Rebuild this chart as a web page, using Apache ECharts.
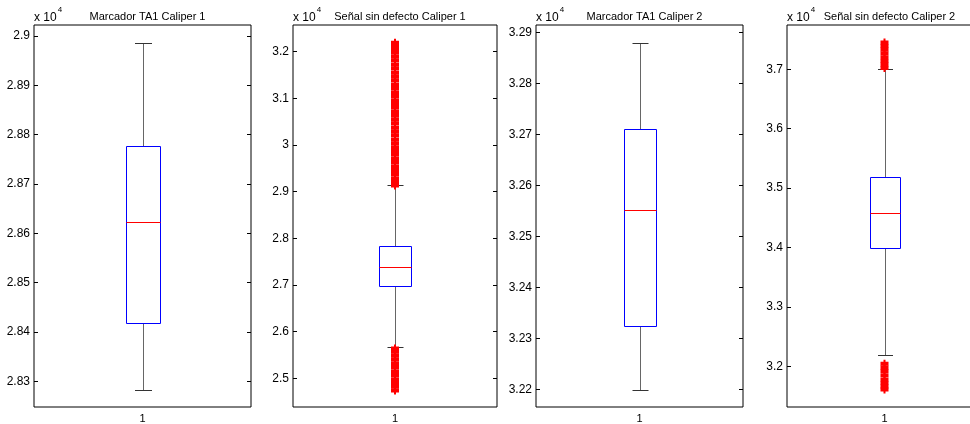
<!DOCTYPE html>
<html>
<head>
<meta charset="utf-8">
<script src="https://cdn.jsdelivr.net/npm/echarts@6/dist/echarts.min.js"></script>
<style>
html,body{margin:0;padding:0;background:#fff;}
#c{width:970px;height:424px;}
</style>
</head>
<body>
<div id="c"></div>
<script>
// ---- data (values in units of 10^4) ----
var categories = ['1'];
var titles = ['Marcador TA1 Caliper 1', 'Señal sin defecto Caliper 1', 'Marcador TA1 Caliper 2', 'Señal sin defecto Caliper 2'];

// [lower whisker, Q1, median, Q3, upper whisker]
var box1 = [2.8283, 2.8418, 2.8623, 2.8777, 2.8986];
var box2 = [2.5680, 2.6980, 2.7395, 2.7830, 2.9133];
var box3 = [3.2199, 3.2325, 3.2552, 3.2712, 3.2880];
var box4 = [3.2192, 3.3987, 3.4582, 3.5189, 3.7000];

// outliers
var out1 = [];
var out2 = [2.913, 2.921, 2.929, 2.938, 2.946, 2.953, 2.962, 2.970, 2.979, 2.987, 2.995, 3.004, 3.012, 3.021,
            3.029, 3.037, 3.046, 3.054, 3.063, 3.071, 3.080, 3.088, 3.096, 3.105, 3.113, 3.122, 3.130, 3.139,
            3.147, 3.155, 3.164, 3.172, 3.181, 3.189, 3.198, 3.206, 3.213, 3.219,
            2.564, 2.557, 2.549, 2.541, 2.532, 2.524, 2.515, 2.507, 2.498, 2.490, 2.482, 2.474];
var out3 = [];
var out4 = [3.702, 3.708, 3.714, 3.720, 3.727, 3.733, 3.739, 3.745,
            3.2045, 3.198, 3.192, 3.185, 3.178, 3.172, 3.166, 3.161];

// tick labels
var ticks1 = [2.83, 2.84, 2.85, 2.86, 2.87, 2.88, 2.89, 2.9];
var ticks2 = [2.5, 2.6, 2.7, 2.8, 2.9, 3, 3.1, 3.2];
var ticks3 = [3.22, 3.23, 3.24, 3.25, 3.26, 3.27, 3.28, 3.29];
var ticks4 = [3.2, 3.3, 3.4, 3.5, 3.6, 3.7];

// axis ranges
var range1 = [2.8248, 2.9022];
var range2 = [2.4384, 3.2573];
var range3 = [3.2166, 3.2915];
var range4 = [3.1316, 3.7744];

// ---- layout ----
var panels = [
  {left: 34, width: 217, box: box1, out: out1, ticks: ticks1, range: range1},
  {left: 293, width: 204, box: box2, out: out2, ticks: ticks2, range: range2},
  {left: 536, width: 207, box: box3, out: out3, ticks: ticks3, range: range3},
  {left: 787, width: 195, box: box4, out: out4, ticks: ticks4, range: range4}
];
var TOP = 25, HEIGHT = 382;
var FONT = '"Liberation Sans", Arial, sans-serif';
var plusPath = 'path://M3,0H5V2H8V6H5V8H3V6H0V2H3Z';

function fmt(v) { return String(+(+v).toFixed(4)); }

var grid = [], xAxis = [], yAxis = [], series = [], title = [];

panels.forEach(function (p, i) {
  grid.push({left: p.left, top: TOP, width: p.width, height: HEIGHT, show: true,
    outerBoundsMode: 'none', containLabel: false,
    borderColor: '#000', borderWidth: 1, backgroundColor: '#fff'});
  title.push({text: titles[i], left: p.left + p.width / 2, top: 6, textAlign: 'center',
    textStyle: {fontFamily: FONT, fontSize: 11, fontWeight: 'normal', color: '#000'}});
  xAxis.push({type: 'category', gridIndex: i, data: categories, boundaryGap: true,
    axisLine: {show: false}, axisTick: {show: false}, splitLine: {show: false},
    axisLabel: {margin: 6, fontFamily: FONT, fontSize: 11, color: '#000'}});
  yAxis.push({type: 'value', gridIndex: i, min: p.range[0], max: p.range[1], position: 'left',
    name: '{a|x 10}{b|4}', nameLocation: 'end', nameGap: 1,
    nameTextStyle: {align: 'left', verticalAlign: 'bottom', padding: [0, 0, 0, 0],
      rich: {a: {fontFamily: FONT, fontSize: 12, color: '#000', padding: [6, 0, 0, 0]},
             b: {fontFamily: FONT, fontSize: 8, color: '#000', verticalAlign: 'top', padding: [0, 0, 10, 1]}}},
    axisLine: {show: false}, splitLine: {show: false},
    axisTick: {show: true, inside: true, length: 4, customValues: p.ticks, lineStyle: {color: '#000'}},
    axisLabel: {show: true, margin: 4, customValues: p.ticks, formatter: fmt,
      fontFamily: FONT, fontSize: 12, color: '#000'}});
  yAxis.push({type: 'value', gridIndex: i, min: p.range[0], max: p.range[1], position: 'right',
    axisLine: {show: false}, splitLine: {show: false}, axisLabel: {show: false},
    axisTick: {show: true, inside: true, length: 4, customValues: p.ticks, lineStyle: {color: '#000'}}});

  series.push({
    type: 'custom', xAxisIndex: i, yAxisIndex: 2 * i, clip: false, z: 3,
    data: [[0].concat(p.box)],
    encode: {x: 0, y: [1, 2, 3, 4, 5]},
    renderItem: function (params, api) {
      var lo = api.coord([api.value(0), api.value(1)]);
      var q1 = api.coord([api.value(0), api.value(2)]);
      var md = api.coord([api.value(0), api.value(3)]);
      var q3 = api.coord([api.value(0), api.value(4)]);
      var hi = api.coord([api.value(0), api.value(5)]);
      var band = api.size([1, 0])[0];
      var bw = Math.round(band * 0.155);
      var cw = Math.round(bw / 2);
      var cx = Math.round(md[0]) + 0.5;
      var r = function (v) { return Math.round(v) + 0.5; };
      var wStyle = {stroke: '#666', lineWidth: 1};
      return {type: 'group', children: [
        {type: 'line', shape: {x1: cx, y1: r(q3[1]), x2: cx, y2: r(hi[1])}, style: wStyle},
        {type: 'line', shape: {x1: cx, y1: r(q1[1]), x2: cx, y2: r(lo[1])}, style: wStyle},
        {type: 'line', shape: {x1: cx - cw / 2, y1: r(hi[1]), x2: cx + cw / 2, y2: r(hi[1])}, style: {stroke: '#333', lineWidth: 1}},
        {type: 'line', shape: {x1: cx - cw / 2, y1: r(lo[1]), x2: cx + cw / 2, y2: r(lo[1])}, style: {stroke: '#333', lineWidth: 1}},
        {type: 'rect', shape: {x: cx - bw / 2, y: r(q3[1]), width: bw, height: r(q1[1]) - r(q3[1])},
          style: {fill: '#fff', stroke: '#0000ff', lineWidth: 1}},
        {type: 'line', shape: {x1: cx - bw / 2, y1: r(md[1]), x2: cx + bw / 2, y2: r(md[1])},
          style: {stroke: '#ff0000', lineWidth: 1}}
      ]};
    }
  });
  if (p.out.length) {
    series.push({
      type: 'scatter', xAxisIndex: i, yAxisIndex: 2 * i, z: 4, silent: true,
      symbol: plusPath, symbolSize: 8,
      itemStyle: {color: '#ff0000', opacity: 1},
      data: p.out.map(function (v) { return [0, v]; })
    });
  }
});

var chart = echarts.init(document.getElementById('c'), null, {renderer: 'canvas'});
chart.setOption({
  animation: false,
  backgroundColor: '#fff',
  title: title,
  grid: grid,
  xAxis: xAxis,
  yAxis: yAxis,
  series: series
});
</script>
</body>
</html>
